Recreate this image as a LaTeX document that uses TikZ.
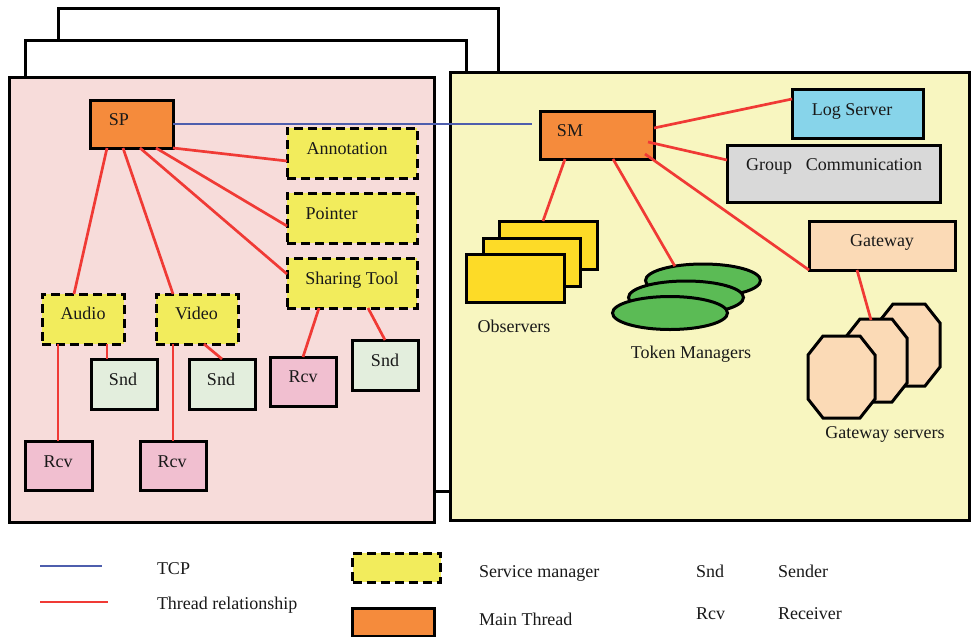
\documentclass[tikz,border=0pt]{standalone}
\usepackage{fontspec}
\setmainfont{Liberation Serif}
\usetikzlibrary{shapes.geometric}
\definecolor{pinkP}{HTML}{F7DCDA}
\definecolor{yelP}{HTML}{F8F6C0}
\definecolor{mainO}{HTML}{F58B3C}
\definecolor{svcY}{HTML}{F2EC5C}
\definecolor{sndG}{HTML}{E3EEDD}
\definecolor{rcvP}{HTML}{F1BFD0}
\definecolor{logB}{HTML}{87D4EA}
\definecolor{grpG}{HTML}{D9D9D9}
\definecolor{gwO}{HTML}{FBDAB6}
\definecolor{obsY}{HTML}{FDDB27}
\definecolor{tokG}{HTML}{5BBB55}
\definecolor{relR}{HTML}{F03A35}
\definecolor{tcpB}{HTML}{4E5EAD}
\tikzset{
  box/.style={draw=black, line width=3pt, inner sep=0pt, outer sep=0pt, rectangle},
  svc/.style={box, fill=svcY, dash pattern=on 9pt off 5pt},
  mainbox/.style={box, fill=mainO},
  sndbox/.style={box, fill=sndG},
  rcvbox/.style={box, fill=rcvP},
  obsbox/.style={box, fill=obsY},
  tokell/.style={draw=black, line width=3pt, fill=tokG, ellipse, inner sep=0pt, outer sep=0pt, minimum width=115pt, minimum height=33pt},
  octo/.style={draw=black, line width=3pt, fill=gwO, line join=miter},
  txt/.style={inner sep=0pt, outer sep=0pt, font=\fontsize{18pt}{21pt}\selectfont, text=black!90, anchor=base},
  ltxt/.style={txt, anchor=base west},
  rel/.style={draw=relR, line width=2.7pt},
  tcp/.style={draw=tcpB, line width=2.6pt},
  panel/.style={draw=black, line width=3pt},
}
\newcommand\octagon[4]{\draw[octo] (#1+15,#2) -- (#3-15,#2) -- (#3,#2+19) -- (#3,#4-19) -- (#3-15,#4) -- (#1+15,#4) -- (#1,#4-19) -- (#1,#2+19) -- cycle;}
\begin{document}
\begin{tikzpicture}[x=1pt,y=-1pt]
\useasboundingbox (0,0) rectangle (972,637);
% stacked frames
\draw[panel, fill=white] (58,8) rectangle (498,460);
\draw[panel, fill=white] (25,40) rectangle (466,491);
% panels
\draw[panel, fill=pinkP] (9,77) rectangle (434,522);
\draw[panel, fill=yelP] (450,72) rectangle (969,520);

% left boxes
\node[mainbox, minimum width=83pt, minimum height=48pt] (sp) at (131.5,124) {};
\node[svc, minimum width=130pt, minimum height=50pt] (ann) at (352,153) {};
\node[svc, minimum width=130pt, minimum height=50pt] (ptr) at (352,218) {};
\node[svc, minimum width=130pt, minimum height=50pt] (shr) at (352,283) {};
\node[svc, minimum width=82pt, minimum height=50pt] (aud) at (83,319) {};
\node[svc, minimum width=82pt, minimum height=50pt] (vid) at (197,319) {};
\node[sndbox, minimum width=66pt, minimum height=50pt] (snda) at (124,384) {};
\node[sndbox, minimum width=66pt, minimum height=50pt] (sndv) at (222,384) {};
\node[rcvbox, minimum width=66pt, minimum height=49pt] (rcvs) at (303,381.5) {};
\node[sndbox, minimum width=66pt, minimum height=50pt] (snds) at (385,365) {};
\node[rcvbox, minimum width=67pt, minimum height=49pt] (rcva) at (58.5,465.5) {};
\node[rcvbox, minimum width=66pt, minimum height=49pt] (rcvv) at (173,465.5) {};

\node[txt] (tsp) at (119,125) {SP};
\node[txt] (tann) at (347,154) {Annotation};
\node[txt] (tptr) at (331.5,219) {Pointer};
\node[txt] (tshr) at (352,284) {Sharing Tool};
\node[txt] (taud) at (83,319) {Audio};
\node[txt] (tvid) at (196.5,319) {Video};
\node[txt] (tsnda) at (123,385) {Snd};
\node[txt] (tsndv) at (221,385) {Snd};
\node[txt] (trcvs) at (303,382) {Rcv};
\node[txt] (tsnds) at (385,366) {Snd};
\node[txt] (trcva) at (58,467) {Rcv};
\node[txt] (trcvv) at (172,467) {Rcv};

% left connectors
\draw[rel] ([xshift=17pt]sp.south west) -- ([xshift=32pt]aud.north west);
\draw[rel] ([xshift=33pt]sp.south west) -- ([xshift=17pt]vid.north west);
\draw[rel] ([xshift=50pt]sp.south west) -- ([yshift=9pt]shr.west);
\draw[rel] ([xshift=66pt]sp.south west) -- ([yshift=-8pt]ptr.west);
\draw[rel] (sp.south east) -- ([yshift=-8pt]ann.west);
\draw[rel] ([xshift=16pt]aud.south west) -- ([xshift=-0.5pt]rcva.north);
\draw[rel] ([xshift=65pt]aud.south west) -- ([xshift=16pt]snda.north west);
\draw[rel] ([xshift=17pt]vid.south west) -- (rcvv.north);
\draw[rel] ([xshift=48pt]vid.south west) -- (sndv.north);
\draw[rel] ([xshift=32pt]shr.south west) -- (rcvs.north);
\draw[rel] ([xshift=81pt]shr.south west) -- (snds.north);

% right boxes
\node[mainbox, minimum width=114pt, minimum height=48pt] (sm) at (597,135) {};
\node[box, fill=logB, minimum width=131pt, minimum height=49pt] (log) at (857.5,113.5) {};
\node[box, fill=grpG, minimum width=213pt, minimum height=57pt] (grp) at (833.5,173.5) {};
\node[box, fill=gwO, minimum width=146pt, minimum height=49pt] (gw) at (882,245.5) {};
\node[obsbox, minimum width=98pt, minimum height=48pt] (obs3) at (548,245) {};
\node[obsbox, minimum width=97pt, minimum height=48pt] (obs2) at (531.5,262) {};
\node[obsbox, minimum width=98pt, minimum height=48pt] (obs1) at (515,278) {};
\node[tokell] (tok3) at (703,280.5) {};
\node[tokell] (tok2) at (686,297.5) {};
\node[tokell] (tok1) at (670,313) {};
\octagon{878}{304}{940}{386}
\octagon{845}{319}{907}{402}
\octagon{808}{336}{875}{418}
\coordinate (octtop) at (871,320);

\node[txt] (tsm) at (570,136) {SM};
\node[txt] (tlog) at (852,115) {Log Server};
\node[txt] (tgrp) at (834,170) {Group\hspace{14pt}Communication};
\node[txt] (tgw) at (882,246) {Gateway};
\node[txt] (tobs) at (514,332) {Observers};
\node[txt] (ttok) at (691,358) {Token Managers};
\node[txt] (tgws) at (885,438) {Gateway servers};

% right connectors
\coordinate (tcpend) at (532,124);
\draw[tcp] (sp.east) -- (tcpend);
\draw[rel] ([yshift=7pt]sm.east) -- ([yshift=-10pt]log.north west);
\draw[rel] ([xshift=-6pt,yshift=-7pt]sm.east) -- ([yshift=-15pt]grp.north west);
\draw[rel] ([xshift=-9pt,yshift=5pt]sm.south east) -- (gw.south west);
\draw[rel] ([xshift=25pt]sm.south west) -- ([xshift=44pt]obs3.north west);
\draw[rel] ([xshift=73pt]sm.south west) -- (tok3.153);
\draw[rel] ([xshift=48pt]gw.south west) -- (octtop);

% legend
\coordinate (la1) at (40,566);
\coordinate (la2) at (102,566);
\coordinate (lb1) at (40,602);
\coordinate (lb2) at (108,602);
\draw[tcp] (la1) -- (la2);
\draw[rel] (lb1) -- (lb2);
\node[ltxt] (ltcp) at (157,574) {TCP};
\node[ltxt] (lthr) at (157,609) {Thread relationship};
\node[svc, minimum width=88pt, minimum height=29pt] (lsvc) at (396.5,567.5) {};
\node[mainbox, minimum width=82pt, minimum height=28pt] (lmain) at (393.5,622.5) {};
\node[ltxt] (lsvct) at (479,577) {Service manager};
\node[ltxt] (lmaint) at (479,625) {Main Thread};
\node[ltxt] (lsnd) at (696,577) {Snd};
\node[ltxt] (lsndt) at (778,577) {Sender};
\node[ltxt] (lrcv) at (696,619) {Rcv};
\node[ltxt] (lrcvt) at (778,619) {Receiver};
\end{tikzpicture}
\end{document}
